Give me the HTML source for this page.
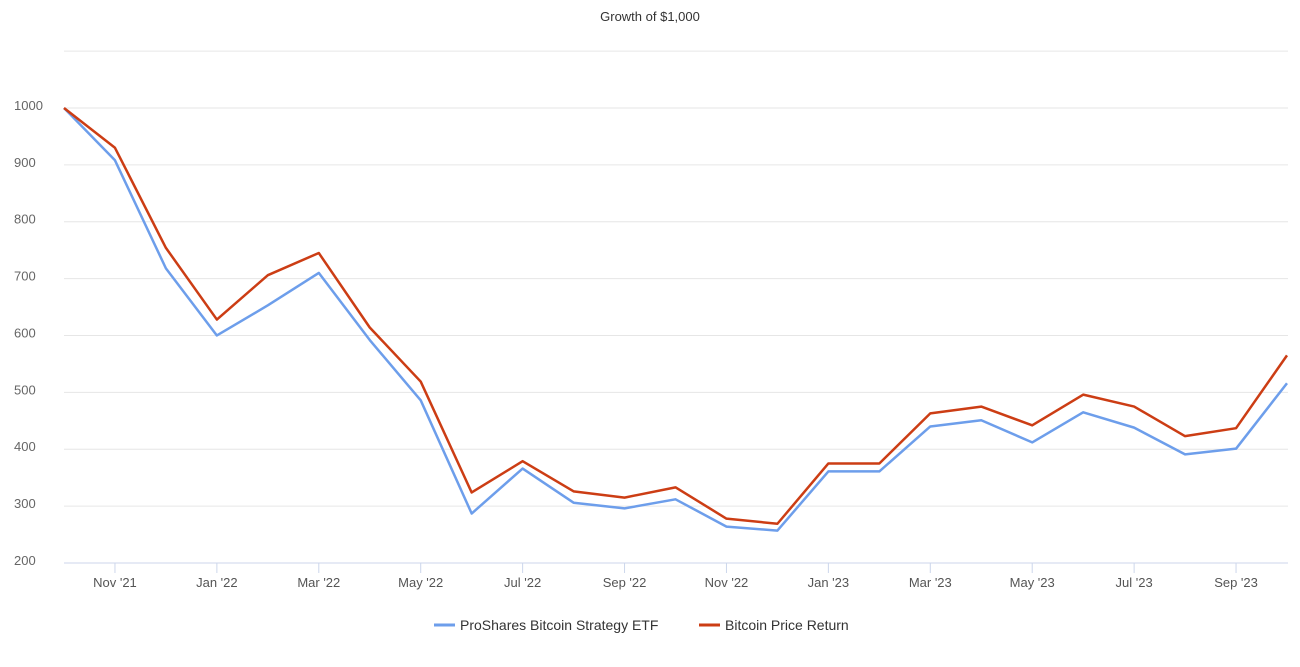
<!DOCTYPE html>
<html><head><meta charset="utf-8"><style>
body{margin:0;background:#fff;font-family:"Liberation Sans",sans-serif;}
svg text{font-family:"Liberation Sans",sans-serif;}
</style></head><body>
<svg id="chart" width="1300" height="662">
<text x="650" y="21" text-anchor="middle" font-size="13" fill="#333">Growth of $1,000</text>
<g id="grid"></g><g id="yticks"></g><g id="xticks"></g><g id="series"></g>
<g>
<g><line x1="434" y1="625" x2="455" y2="625" stroke="#6d9eeb" stroke-width="3"/><text x="460" y="630" font-size="14" fill="#333">ProShares Bitcoin Strategy ETF</text></g>
<g><line x1="699" y1="625" x2="720" y2="625" stroke="#cc3d14" stroke-width="3"/><text x="725" y="630" font-size="14" fill="#333">Bitcoin Price Return</text></g>
</g>
</svg>
<script>
const months = ["Oct '21","Nov '21","Dec '21","Jan '22","Feb '22","Mar '22","Apr '22","May '22","Jun '22","Jul '22","Aug '22","Sep '22","Oct '22","Nov '22","Dec '22","Jan '23","Feb '23","Mar '23","Apr '23","May '23","Jun '23","Jul '23","Aug '23","Sep '23","Oct '23"];
const etfValues = [1000,908,718,600,653,710,592,486,287,366,306,296,312,264,257,361,361,440,451,412,465,438,391,401,516];
const btcValues = [1000,930,754,628,706,745,614,519,324,379,326,315,333,278,269,375,375,463,475,442,496,475,423,437,565];
const yTicks = [200,300,400,500,600,700,800,900,1000];
const xLabelIdx = [1,3,5,7,9,11,13,15,17,19,21,23];
const NS="http://www.w3.org/2000/svg";
const x0=64,x1=1287,yBase=563,pxPer=0.5688;
const xs=i=>x0+i*(x1-x0)/(months.length-1);
const ys=v=>yBase-(v-200)*pxPer;
function mk(tag,attrs,parent){const e=document.createElementNS(NS,tag);for(const k in attrs)e.setAttribute(k,attrs[k]);parent.appendChild(e);return e;}
const grid=document.getElementById('grid'),yt=document.getElementById('yticks'),xt=document.getElementById('xticks'),ser=document.getElementById('series');
[...yTicks,1100].forEach(v=>{
  const l=mk('line',{x1:64,x2:1288,y1:ys(v),y2:ys(v),stroke:v===200?'#ccd6eb':'#e6e6e6','stroke-width':1},grid);
  
  
});
yTicks.forEach(v=>{
  const t=mk('text',{x:14,y:ys(v)+2,'font-size':13,fill:'#666'},yt);t.textContent=v;
  
  
});
xLabelIdx.forEach(i=>{
  const tk=mk('line',{x1:xs(i),x2:xs(i),y1:563,y2:573,stroke:'#ccd6eb'},xt);
  
  
  const t=mk('text',{x:xs(i),y:587,'font-size':13,fill:'#555','text-anchor':'middle'},xt);t.textContent=months[i];
  
  
});
function line(vals,color,name){
  const p=mk('polyline',{points:vals.map((v,i)=>xs(i)+','+ys(v)).join(' '),fill:'none',stroke:color,'stroke-width':2.5,'stroke-linejoin':'round'},ser);
  
  
}
line(etfValues,'#6d9eeb','etf-line');
line(btcValues,'#cc3d14','bitcoin-line');
</script>
</body></html>
